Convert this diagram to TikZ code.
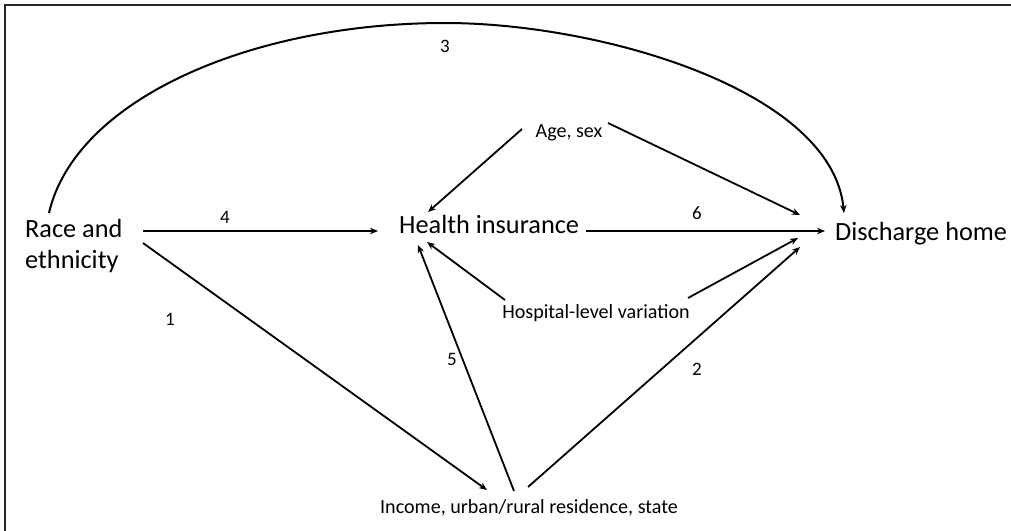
\documentclass[tikz,border=0pt]{standalone}
\usepackage{fontspec}
\setmainfont{Carlito}
\usetikzlibrary{arrows.meta,calc}
\begin{document}
\begin{tikzpicture}[x=1pt,y=-1pt,
  big/.style={font=\fontsize{26.3}{31}\selectfont, inner sep=0pt, align=left},
  small/.style={font=\fontsize{20.1}{24}\selectfont, inner sep=0pt},
  num/.style={font=\fontsize{19}{23}\selectfont, inner sep=0pt},
  arr/.style={line width=1.8pt, -{Stealth[length=8pt,width=6.5pt]}}]
\useasboundingbox (0,0) rectangle (1011,530);
\draw[line width=1.6pt, draw=black!85] (5,531) -- (5,5) -- (1012,5);

\node[big, anchor=base west] (race) at (25,268) {Race and\\ethnicity};
\node[big, anchor=base west] (health) at (399,233) {Health insurance};
\node[big, anchor=base west] (dis) at (835,240) {Discharge home};
\node[small, anchor=base] (age) at (569,137) {Age, sex};
\node[small, anchor=base] (hosp) at (596,318) {Hospital-level variation};
\node[small, anchor=base] (inc) at (529,513) {Income, urban/rural residence, state};

\node[num, anchor=base] (n3) at (445,52) {3};
\node[num, anchor=base] (n4) at (225,223) {4};
\node[num, anchor=base] (n6) at (697,219) {6};
\node[num, anchor=base] (n1) at (170,325) {1};
\node[num, anchor=base] (n5) at (452,365) {5};
\node[num, anchor=base] (n2) at (697,375) {2};

% 1
\draw[arr] ([shift={(118,-25)}]race.base west) -- ([shift={(-42,-23)}]inc.base);
% 2
\draw[arr] ([shift={(-1,-26)}]inc.base) -- ([shift={(-35,7)}]dis.base west);
% 3
\draw[arr, line width=2pt] ([shift={(24,-55)}]race.base west)
  .. controls (75,100) and (250,23) .. (445,23)
  .. controls (600,23) and (832,90) .. ([shift={(9,-27)}]dis.base west);
% 4
\draw[arr] ([shift={(118,-37)}]race.base west) -- ([shift={(-21,-2)}]health.base west);
% 5
\draw[arr] ([shift={(-15,-22)}]inc.base) -- ([shift={(19,12)}]health.base west);
% 6
\draw[arr] ([shift={(187,-2)}]health.base west) -- ([shift={(-10,-9)}]dis.base west);
% age
\draw[arr] ([shift={(-47,-8)}]age.base) -- ([shift={(29,-21)}]health.base west);
\draw[arr] ([shift={(39,-14)}]age.base) -- ([shift={(-35,-25)}]dis.base west);
% hospital
\draw[arr] ([shift={(-91,-18)}]hosp.base) -- ([shift={(28,9)}]health.base west);
\draw[arr] ([shift={(92,-20)}]hosp.base) -- ([shift={(-37,-2)}]dis.base west);
\end{tikzpicture}
\end{document}
